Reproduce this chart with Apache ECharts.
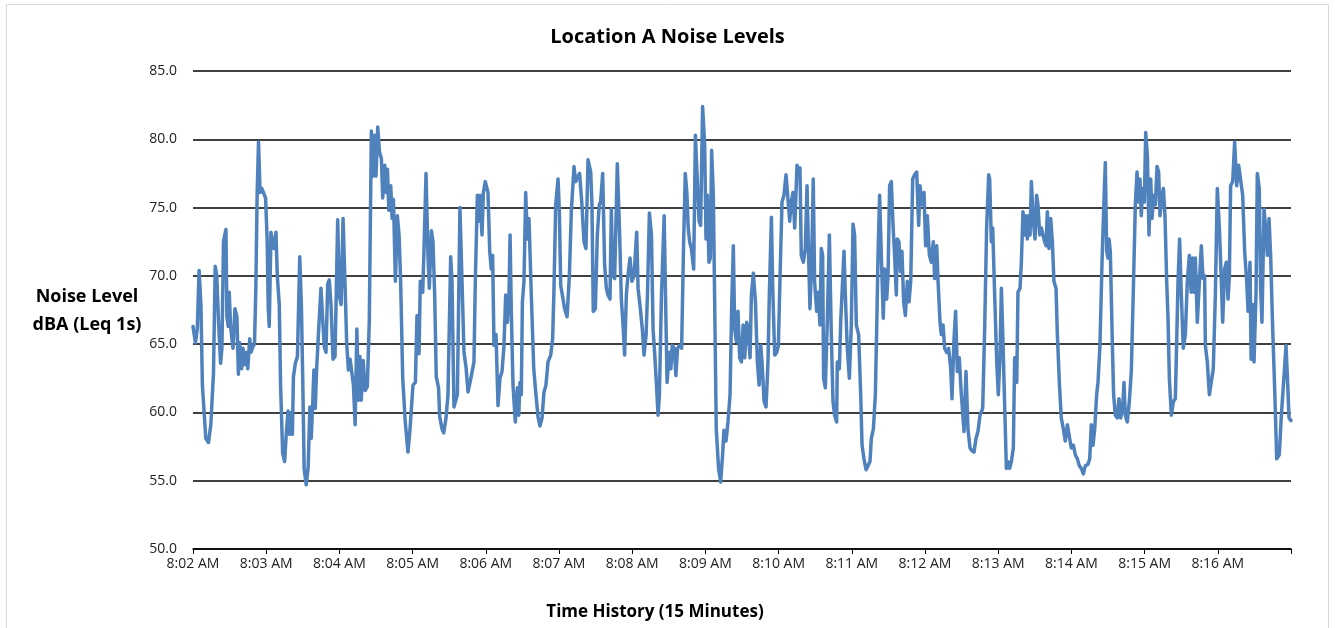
<!DOCTYPE html>
<html>
<head>
<meta charset="utf-8">
<script src="https://cdn.jsdelivr.net/npm/echarts@6/dist/echarts.min.js"></script>
<style>
html,body{margin:0;padding:0;background:#fff;}
#chart{width:1335px;height:628px;}
</style>
</head>
<body>
<div id="chart"></div>
<script>
// Chart text
const chartTitle = 'Location A Noise Levels';
const xAxisTitle = 'Time History (15 Minutes)';
const yAxisTitle = 'Noise Level\ndBA (Leq 1s)';

// X tick labels (one per minute)
const timeLabels = ['8:02 AM','8:03 AM','8:04 AM','8:05 AM','8:06 AM','8:07 AM','8:08 AM','8:09 AM',
  '8:10 AM','8:11 AM','8:12 AM','8:13 AM','8:14 AM','8:15 AM','8:16 AM'];

// Seconds since 8:02 AM (at the line's turning points)
const seconds = [
0,2,3.5,5,6.5,7.7,10.5,12.7,14.6,16.8,18.2,19.5,20.9,22.6,23.7,25,27,27.8,28.9,29.7,30.8,32.8,34.4,36,37.2,38.3,39.9,41,42.4,43.8,44.9,46.5,47.6,49,50.4,51.5,52.6,53.7,55,56.4,57.8,59.5,
60.8,61.7,62.5,63.9,65.3,66.3,68,69.1,70.7,71.8,73.5,75.1,76.5,77.9,79,80.1,81.5,82.3,83.9,85.6,87.5,88.9,90,91.1,92.8,94.4,95.8,96.9,98,99.1,100.2,101.3,102.9,104.9,106.2,107.6,109,110.4,111.7,113.1,114.8,116.4,118.6,
120,121.4,123,124.7,126,127.4,128.8,130.2,131.5,132.9,134.3,135.7,136.8,137.9,139.5,141.2,142.9,144.5,146.2,147.5,148.9,150,151.4,152.8,154.4,155.5,157.2,158.5,159.4,160.5,162.1,163.2,164.3,165.9,167.5,168.9,170.2,171.9,174,176.2,177.9,
180.3,182.3,183.6,185.3,186.3,188.3,189.3,191,192.6,193.7,195.4,196.7,198.1,199.4,201.3,202.2,204.1,205.5,207.4,209,211.2,212.3,213.9,215.3,216.7,218.8,220.5,222.1,223.8,225.4,227.1,228.7,230.3,231.4,233.1,234.2,235.2,236.9,238,239.6,
241.8,243.2,244.5,245.6,246.7,248.4,250,251.6,253.3,254.9,256.3,257.7,259,259.9,260.9,262.3,264.2,265.9,267,268,269.1,270,271.3,272.7,274.1,275.4,277.3,279.3,280.9,282.8,284.4,286.1,287.7,289.3,291,293.2,294.8,295.9,297.3,299.2,
300.3,301.4,303.3,304.6,306.6,308.5,310.1,312.3,313.7,315,316.9,318.8,320.5,322.1,323.8,326,327,328.1,329.8,331.4,333,334.1,335.8,337.4,338.8,340.1,341.8,342.9,344,345.6,347.8,349.7,351.1,352.7,353.8,355.2,356.5,358.2,359.8,
361.5,363.7,364.8,366.9,368.3,369.7,371.4,372.5,374.1,375.8,377.1,378.5,379.9,381.2,382.3,384,386.2,387.3,388.6,390.4,391.7,392.8,394.5,395.8,397.2,398.9,400.5,402.1,403.5,404.8,405.9,407.1,408.5,410.4,411.8,413.4,414.8,416.1,417.7,419.4,
420.5,421.6,422.9,424,425.1,426.5,427.6,428.9,430.8,432.5,434.1,435.2,436.9,438.5,440.2,441.5,442.9,444,445.4,446.7,448.1,449.5,450.9,452.2,453.9,455,456.6,457.7,459.3,461,462.6,464,465.4,466.4,468.1,469.7,471.3,472.4,474.1,475.2,476.8,478.5,479.8,
481.2,482.8,484.4,486.1,487.7,489.1,490.4,491.8,493.2,495.1,496.5,497.5,498.6,500.3,501.9,503.3,504.6,505.7,507.1,508.4,509.5,511.2,512.5,513.9,515,516.1,516.9,518.3,519.9,521.6,523.2,524.6,525.9,527.6,528.1,529.8,530.9,532.2,533.6,534.7,536.3,538,539.6,
541,542.3,543.7,545.6,547.3,548.4,550,551.7,553.3,554.9,556,557.7,559.3,560.4,561.5,562.8,564.2,565.8,566.9,568.6,569.7,571,572.4,573.8,575.1,576.5,577.3,578.6,580,581.1,582.5,583.9,585.5,586.9,588.3,589.9,591.5,593.2,594.8,595.9,597.5,599.2,
600.5,601.9,603.6,605.2,606.8,607.9,609.6,610.7,612.3,613.4,614.8,616.1,617.8,619.4,621.1,622.1,623.8,625.1,626.5,628.1,629.8,632,633.6,635.2,636.9,638.5,640.2,641.8,643.4,645.1,647.3,648.9,650.5,652.2,653,654.4,655.5,657.1,658.8,
660.1,661.5,662.6,664,665.3,666.7,668,669.4,670.8,672.4,673.5,675.2,676.2,677.9,679,680.3,681.7,682.8,683.9,685,686.1,687.2,688.8,690.2,691.5,692.6,694,695.4,696.7,698.1,699.2,700.3,701.6,703,704.4,705.7,707.4,708.5,710.1,711.7,713.4,715,716.7,718.3,719.9,
721.6,723.2,724.9,726.5,728.1,729.8,731.4,733.6,735,736.3,737.7,739.1,740.7,741.8,743.4,745.1,746.4,747.8,748.9,750,750.8,751.9,753.3,754.6,756,757.7,759,760.4,762,763.1,764.2,765.8,767.5,769.1,770.8,772.4,773.8,775.1,776.2,777.3,778.4,779.8,
780.9,782.3,783.6,785,786.1,787.4,788.8,790.2,791.5,792.6,794,795.4,796.7,798.1,799.2,800.3,801.9,803.6,805.2,806.3,807.4,808.7,810.1,811.7,813.4,815,816.7,818.1,819.4,820.5,821.6,823.2,824.9,826.5,827.9,829.2,829.8,831.4,833.1,834.7,836.3,838,839.6,
841.3,842.9,844,845.6,847,848.4,849.5,850.5,852.2,853.8,855.5,857.1,858.7,860.4,862,863.7,864.8,866.4,867.3,868.6,869.7,871.3,872.4,874,875.1,876.2,877.9,879.2,880.6,882,883.3,885,886.6,888.3,890.4,892.1,894.3,895.9,897,898.4,900
];

// Noise level dBA at each of the seconds above
const levels = [
66.3,65.1,66.1,70.4,67.9,62.0,58.1,57.8,59.1,62.9,70.7,70.0,66.7,63.6,64.7,72.5,73.4,67.0,66.3,68.8,66.3,64.7,67.6,67.0,62.8,65.1,63.2,64.7,63.5,64.4,63.2,65.4,64.4,64.8,65.0,69.1,76.1,79.8,76.1,76.4,76.4,75.7,
72.6,67.6,66.3,73.2,72.3,72.0,73.2,70.0,67.9,62.0,57.0,56.4,58.5,60.1,58.4,60.0,58.4,62.6,63.6,64.1,71.4,67.6,62.2,55.9,54.7,56.0,60.4,58.1,60.4,63.1,60.3,63.1,65.9,69.1,67.0,64.8,64.4,69.4,69.7,67.9,63.9,64.1,74.1,
68.5,67.9,74.2,69.1,65.0,63.1,63.9,63.9,62.0,59.1,66.1,60.9,64.1,60.9,63.8,61.6,61.9,66.7,80.6,77.3,80.3,77.3,80.9,79.1,78.6,75.7,78.1,76.1,77.8,74.8,76.6,74.2,75.6,69.6,74.4,73.0,69.6,62.5,59.3,57.1,58.8,
62.0,62.2,67.1,64.3,69.6,68.8,71.8,77.5,71.5,69.1,73.3,72.5,68.6,62.6,61.8,59.7,58.8,58.5,59.6,61.3,71.4,69.6,60.4,60.4,61.3,75.0,69.6,64.4,63.3,61.5,62.2,62.2,63.7,69.6,75.9,74.0,75.9,73.0,76.1,76.9,
76.1,71.8,70.5,71.5,64.9,65.7,60.5,62.5,63.0,64.9,68.6,66.6,68.6,73.0,67.4,62.0,59.3,61.8,59.8,62.2,61.3,68.1,69.6,76.1,72.7,74.2,68.6,63.2,61.5,59.7,59.0,59.6,61.5,62.0,63.7,64.2,65.4,69.1,75.2,77.1,
74.7,69.3,68.3,67.6,67.0,70.0,74.7,78.0,76.9,77.2,77.5,75.2,72.5,72.0,78.5,77.6,75.2,67.4,67.6,73.0,75.2,75.4,77.5,70.8,69.1,68.6,68.3,74.9,70.0,69.8,78.2,73.0,68.3,66.1,64.2,68.6,70.0,71.3,69.6,
70.0,73.2,69.1,67.4,66.1,64.2,65.7,68.6,74.6,73.0,66.1,64.2,62.0,59.8,61.3,68.6,74.4,68.6,62.2,64.4,63.2,64.9,64.7,62.7,64.7,64.9,64.7,72.2,77.5,76.1,73.5,72.5,72.0,70.5,80.3,76.9,74.0,73.7,82.4,79.6,
72.7,75.9,71.0,71.3,79.2,75.9,68.1,58.8,55.9,54.9,56.9,58.7,57.9,59.3,61.3,67.6,72.2,66.1,65.2,67.4,64.0,63.7,66.4,64.0,66.6,66.1,64.0,68.6,70.2,68.1,63.7,62.0,64.9,63.7,60.8,60.4,63.7,68.6,74.3,69.1,64.2,64.4,64.9,
70.0,75.4,75.9,77.4,77.5,74.0,75.4,76.1,73.5,78.1,77.7,77.9,71.5,71.0,72.0,76.6,71.5,67.6,71.0,77.1,69.6,67.4,68.8,66.4,72.0,71.5,62.5,61.8,66.6,73.0,65.7,60.8,59.8,59.3,63.7,63.2,66.6,69.1,71.8,68.6,64.7,62.5,66.4,
73.8,73.0,66.4,65.7,61.3,57.6,56.6,55.8,55.9,56.4,58.1,58.8,61.3,66.1,71.5,75.9,71.5,66.9,70.5,68.3,70.0,76.6,76.9,73.7,71.5,68.6,72.7,72.5,70.3,71.8,68.1,67.1,69.6,68.1,69.6,77.1,77.4,77.6,73.7,76.6,75.2,76.1,
72.2,74.4,71.5,71.0,72.5,69.8,72.2,69.6,66.6,65.7,66.4,64.7,64.4,64.7,63.2,61.0,65.4,67.4,63.0,64.0,61.3,58.6,63.0,58.8,57.4,57.2,57.1,58.1,58.6,59.8,60.3,66.1,73.5,77.4,77.1,72.5,73.5,68.6,63.7,
61.3,64.2,69.1,64.9,60.5,55.9,56.4,55.9,56.4,57.4,64.0,62.2,68.8,69.1,71.0,74.7,73.0,74.4,72.7,74.4,73.0,76.9,74.0,72.7,75.9,75.2,73.0,73.5,73.0,72.5,72.2,74.7,72.0,74.2,72.5,69.6,69.1,65.7,62.2,59.6,58.8,57.9,59.1,59.1,57.4,
57.6,56.9,56.6,56.1,55.9,55.5,56.1,56.2,56.6,59.1,57.6,58.8,61.3,62.2,64.9,71.0,74.7,78.3,71.8,71.3,72.7,71.8,66.1,61.3,59.8,59.6,61.0,59.6,60.3,62.2,59.8,59.3,60.8,63.0,69.1,75.2,77.6,75.4,77.1,74.4,76.4,75.4,
80.5,78.8,73.0,77.1,74.2,75.9,75.2,78.0,77.6,74.4,75.7,76.4,74.4,69.6,66.9,62.5,59.8,60.8,61.0,65.2,69.6,72.7,68.6,64.7,65.7,69.6,71.5,68.8,71.3,68.8,71.3,66.6,69.6,72.2,69.8,70.0,64.9,63.7,61.3,61.3,63.2,68.6,76.4,
73.5,69.6,66.6,70.5,71.0,68.3,70.0,76.6,76.9,79.8,76.6,78.1,78.1,75.9,71.8,69.6,67.4,71.0,63.9,67.9,63.7,68.6,77.5,76.4,69.1,66.6,74.9,73.5,71.5,74.2,71.5,66.1,61.8,56.6,56.9,59.8,62.7,64.9,62.7,59.6,59.4
];

// Y axis range
const yMin = 50, yMax = 85, yStep = 5;

const lineData = seconds.map((s, i) => [s, levels[i]]);

const chart = echarts.init(document.getElementById('chart'), null, {renderer: 'canvas'});
const font = '"Open Sans", "Liberation Sans", sans-serif';
chart.setOption({
  backgroundColor: '#ffffff',
  animation: false,
  title: {
    text: chartTitle,
    left: 'center',
    top: 22,
    textStyle: {fontFamily: font, fontSize: 20, fontWeight: 'bold', color: '#000'}
  },
  graphic: [
    {type: 'rect', shape: {x: 6.5, y: 4.5, width: 1322, height: 640}, style: {fill: 'none', stroke: '#d9d9d9', lineWidth: 1}, silent: true},
    {type: 'text', silent: true, style: {text: yAxisTitle, x: 87, y: 311, textAlign: 'center', textVerticalAlign: 'middle', font: 'bold 18px ' + font, fill: '#000', lineHeight: 28}},
    {type: 'text', silent: true, style: {text: xAxisTitle, x: 655, y: 612, textAlign: 'center', textVerticalAlign: 'middle', font: 'bold 17px ' + font, fill: '#000'}}
  ],
  grid: {left: 193, top: 71, width: 1098, height: 478, containLabel: false},
  xAxis: {
    type: 'value',
    min: 0, max: 900, interval: 60,
    axisLine: {show: true, lineStyle: {color: '#000', width: 1.5}},
    axisTick: {show: true, length: 5, lineStyle: {color: '#000', width: 1}},
    splitLine: {show: false},
    axisLabel: {
      fontFamily: font, fontSize: 14, color: '#222', margin: 8,
      formatter: v => timeLabels[Math.round(v / 60)] || ''
    }
  },
  yAxis: {
    type: 'value',
    min: yMin, max: yMax, interval: yStep,
    axisLine: {show: false},
    axisTick: {show: false},
    splitLine: {show: true, lineStyle: {color: '#000', width: 1.5}},
    axisLabel: {fontFamily: font, fontSize: 14, color: '#222', margin: 16, formatter: v => v.toFixed(1)}
  },
  series: [{
    type: 'line',
    data: lineData,
    showSymbol: false,
    symbol: 'none',
    lineStyle: {color: '#4F81BD', width: 3.5, join: 'round', cap: 'round'},
    z: 3
  }]
});
</script>
</body>
</html>
